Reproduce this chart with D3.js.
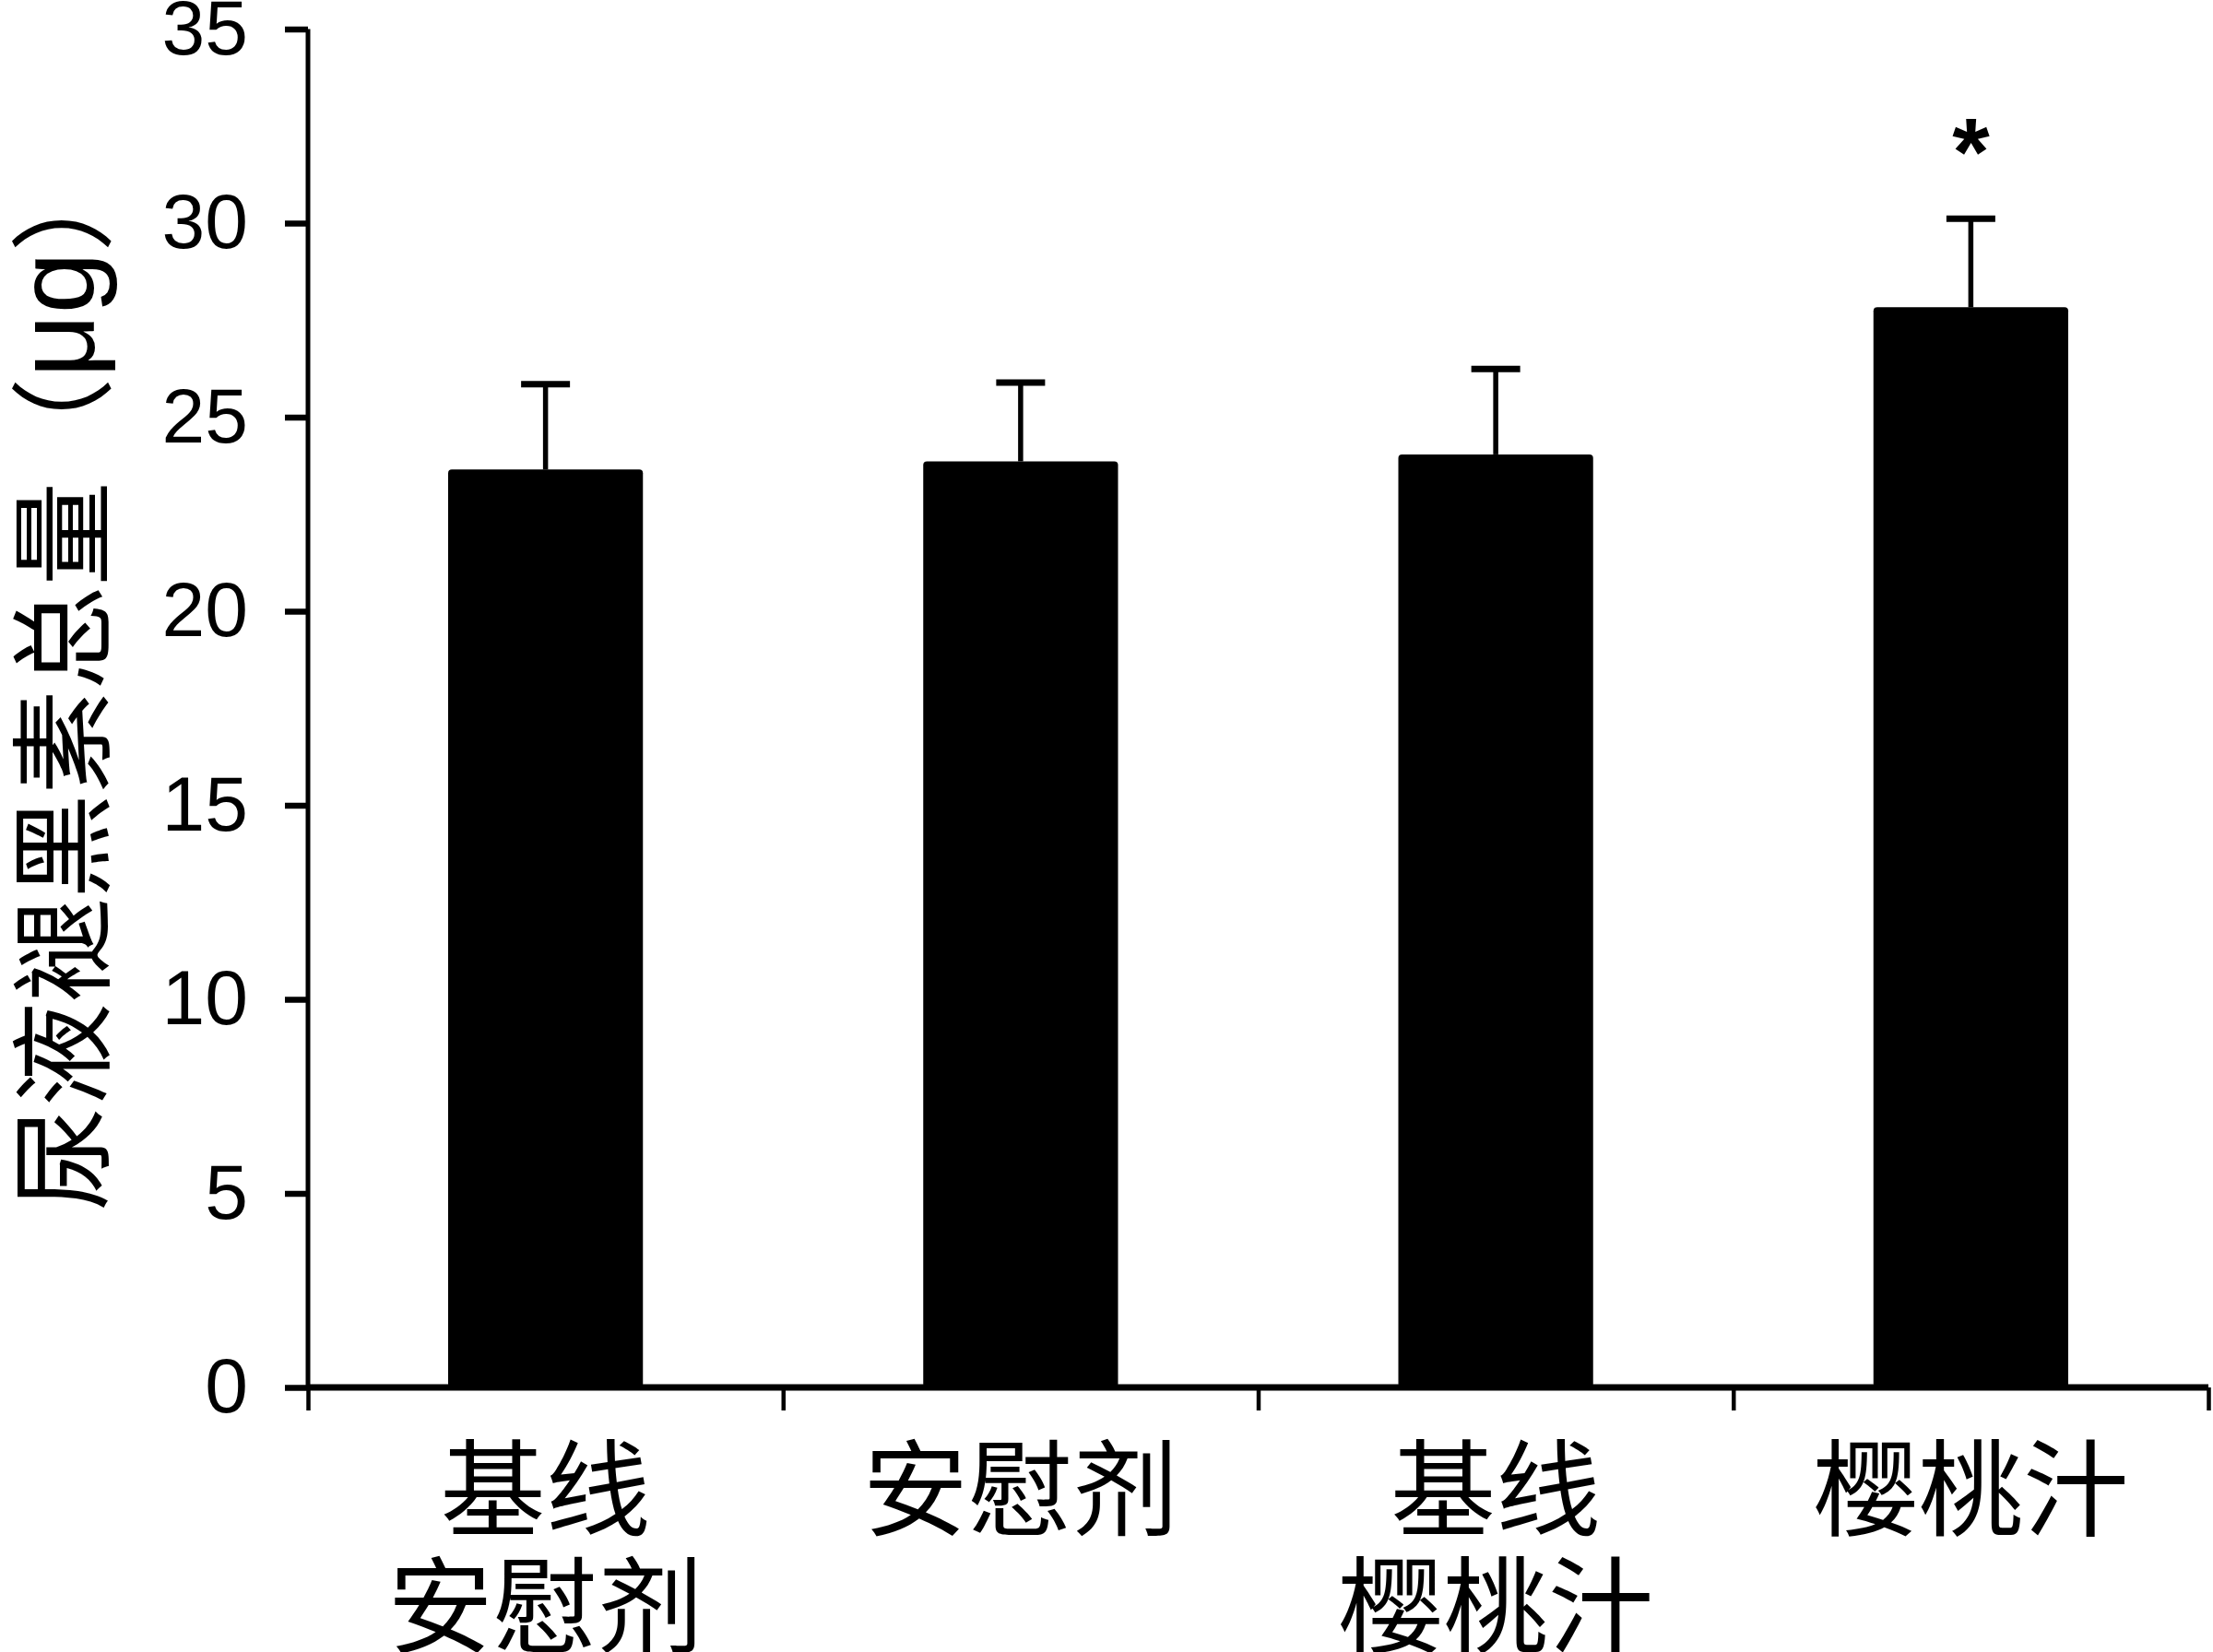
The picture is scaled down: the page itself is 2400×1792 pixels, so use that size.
<!DOCTYPE html>
<html>
<head>
<meta charset="utf-8">
<script src="https://cdn.jsdelivr.net/npm/d3@7"></script>
<style>
  html, body { margin: 0; padding: 0; background: #fff; }
  svg { display: block; }
</style>
</head>
<body>
<script>
// ---- data ----
const categories = ["基线\n安慰剂", "安慰剂", "基线\n樱桃汁", "樱桃汁"];
const means = [23.65, 23.86, 24.04, 27.83];
const errors = [2.20, 2.03, 2.20, 2.28];
const significance = ["", "", "", "*"];
const yTicks = [0, 5, 10, 15, 20, 25, 30, 35];
const yTitle = "尿液褪黑素总量";
const yUnit = "μg";

// ---- layout ----
const W = 2400, H = 1792;
const plotLeft = 334, plotRight = 2395, plotTop = 31.5, plotBottom = 1505;

const svg = d3.select("body").append("svg")
  .attr("width", W).attr("height", H).attr("viewBox", `0 0 ${W} ${H}`);

const x = d3.scaleBand().domain(categories).range([plotLeft, plotRight]).padding(0);
const xEdges = d3.scaleLinear().domain([0, categories.length]).range([plotLeft, plotRight]);
const y = d3.scaleLinear().domain([0, 35]).range([plotBottom, plotTop]);

const barW = x.bandwidth() * 0.41;
const capW = 53;

// bars
svg.append("g").selectAll("rect").data(categories).join("rect")
  .attr("x", d => x(d) + x.bandwidth() / 2 - barW / 2)
  .attr("y", (d, i) => y(means[i]))
  .attr("width", barW)
  .attr("height", (d, i) => y(0) - y(means[i]))
  .attr("rx", 4)
  .attr("fill", "#000");

// error bars
const eb = svg.append("g").attr("stroke", "#000");
categories.forEach((c, i) => {
  const cx = x(c) + x.bandwidth() / 2;
  eb.append("line").attr("x1", cx).attr("x2", cx)
    .attr("y1", y(means[i])).attr("y2", y(means[i] + errors[i]))
    .attr("stroke-width", 5.5);
  eb.append("line").attr("x1", cx - capW / 2).attr("x2", cx + capW / 2)
    .attr("y1", y(means[i] + errors[i])).attr("y2", y(means[i] + errors[i]))
    .attr("stroke-width", 7);
});

// significance
svg.append("g").selectAll("text").data(categories).join("text")
  .attr("x", d => x(d) + x.bandwidth() / 2)
  .attr("y", (d, i) => y(means[i] + errors[i]) - 36)
  .attr("text-anchor", "middle")
  .attr("font-family", "Liberation Sans, Arial, sans-serif")
  .attr("font-size", 104)
  .attr("font-weight", "bold")
  .text((d, i) => significance[i]);

// y axis
const yAxis = svg.append("g").attr("transform", `translate(${plotLeft},0)`)
  .call(d3.axisLeft(y).tickValues(yTicks).tickSize(25).tickPadding(40).tickFormat(d3.format("d")));
yAxis.select(".domain").attr("d", `M0,${plotTop}V${plotBottom}`).attr("stroke-width", 5);
yAxis.selectAll(".tick line").attr("stroke-width", 6.5);
yAxis.selectAll(".tick text")
  .attr("font-family", "Liberation Sans, Arial, sans-serif")
  .attr("font-size", 84)
  .attr("fill", "#000");

// x axis
const xAxis = svg.append("g").attr("transform", `translate(0,${plotBottom})`)
  .call(d3.axisBottom(xEdges).tickValues(d3.range(categories.length + 1)).tickSize(25).tickFormat(""));
xAxis.select(".domain").attr("d", `M${plotLeft},0H${plotRight}`).attr("stroke-width", 7);
xAxis.selectAll(".tick line").attr("stroke-width", 4.5);

// x labels
const xl = svg.append("g")
  .attr("font-family", "Noto Sans CJK SC, sans-serif")
  .attr("font-size", 114)
  .attr("text-anchor", "middle")
  .attr("fill", "#000");
categories.forEach(c => {
  const t = xl.append("text").attr("x", x(c) + x.bandwidth() / 2).attr("y", 1657);
  c.split("\n").forEach((line, j) => {
    t.append("tspan").attr("x", x(c) + x.bandwidth() / 2).attr("dy", j === 0 ? 0 : 127).text(line);
  });
});

// y title
const yt = svg.append("text")
  .attr("transform", `translate(60,737) rotate(-90)`)
  .attr("text-anchor", "middle")
  .attr("dominant-baseline", "central")
  .attr("font-family", "Noto Sans CJK SC, sans-serif")
  .attr("font-size", 113)
  .attr("fill", "#000");
yt.append("tspan").text(yTitle + "（");
yt.append("tspan").attr("font-family", "Liberation Sans, Arial, sans-serif").attr("font-size", 120).text(yUnit);
yt.append("tspan").text("）");
</script>
</body>
</html>
